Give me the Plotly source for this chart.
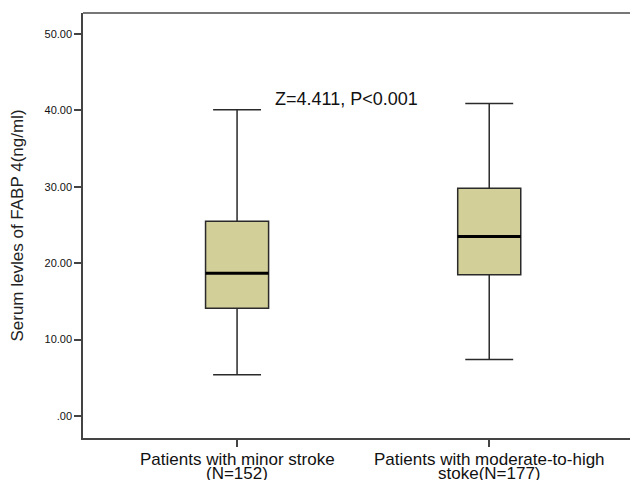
import plotly.graph_objects as go

category_lines = [["Patients with minor stroke", "(N=152)"],
                  ["Patients with moderate-to-high", "stoke(N=177)"]]
lower_whisker = [5.4, 7.4]
q1 = [14.1, 18.5]
median = [18.7, 23.5]
q3 = [25.5, 29.8]
upper_whisker = [40.1, 40.9]
yticks = [0, 10, 20, 30, 40, 50]
yticklabels = [".00", "10.00", "20.00", "30.00", "40.00", "50.00"]
annotation_text = "Z=4.411, P<0.001"

xpos = list(range(len(category_lines)))
box_w = 0.25
fig = go.Figure()
fig.add_trace(go.Box(
    x=xpos, q1=q1, median=median, q3=q3,
    lowerfence=lower_whisker, upperfence=upper_whisker,
    width=box_w, whiskerwidth=0.76,
    fillcolor="#D3CF98", line=dict(color="#2a2a2a", width=1.5),
    boxpoints=False, showlegend=False, hoverinfo="skip"))
for i, m in enumerate(median):
    fig.add_trace(go.Scatter(
        x=[xpos[i] - box_w / 2, xpos[i] + box_w / 2], y=[m, m],
        mode="lines", line=dict(color="black", width=3),
        showlegend=False, hoverinfo="skip"))

font = "Liberation Sans, Arial, sans-serif"
annotations = [dict(text=annotation_text, x=0.433, y=41.5, xref="x", yref="y",
                    showarrow=False, font=dict(size=18, color="#111"))]
for i, lines in enumerate(category_lines):
    for j, line in enumerate(lines):
        annotations.append(dict(text=line, x=xpos[i], xref="x", y=0, yref="paper",
                                yanchor="middle", yshift=-21 - 14 * j,
                                showarrow=False,
                                font=dict(size=17, color="#111")))

# page body adds an 8px offset, so figure is 630x472 with margins reduced by 8
fig.update_layout(
    width=630, height=472,
    margin=dict(l=75, r=0, t=5, b=42),
    paper_bgcolor="white", plot_bgcolor="white",
    font=dict(family=font, color="#222"),
    xaxis=dict(range=[-0.611, 1.59], tickvals=xpos, ticktext=["", ""],
               automargin=False,
               showgrid=False, zeroline=False, showline=True,
               linecolor="#444", linewidth=1.5, ticks="outside",
               ticklen=7, tickcolor="#444", tickwidth=1.5),
    yaxis=dict(range=[-2.88, 52.75], tickvals=yticks, ticktext=yticklabels,
               automargin=False,
               showgrid=False, zeroline=False, showline=True,
               linecolor="#444", linewidth=1.5, ticks="outside",
               ticklen=7, tickcolor="#444", tickwidth=1.5,
               tickfont=dict(size=11, color="#111"),
               title=dict(text="Serum levles of FABP 4(ng/ml)",
                          font=dict(size=17, color="#222"), standoff=26)),
    shapes=[dict(type="line", xref="paper", yref="paper", x0=0, x1=1,
                 y0=1, y1=1, line=dict(color="#777", width=2))],
    annotations=annotations,
)
fig.write_html("out.html")
